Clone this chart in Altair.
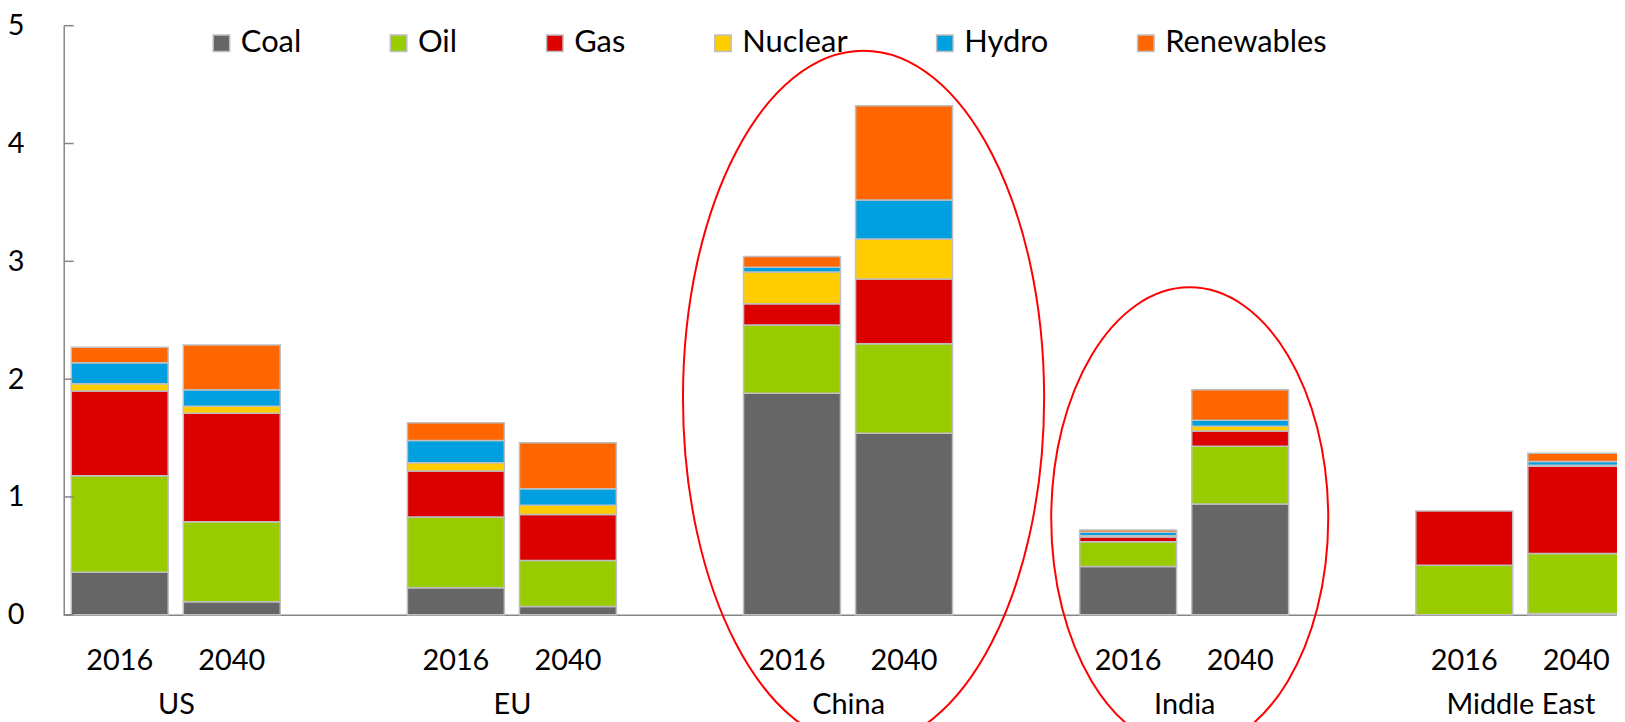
import altair as alt
import pandas as pd

regions = ["US", "EU", "China", "India", "Middle East"]
years = ["2016", "2040"]
sources = ["Coal", "Oil", "Gas", "Nuclear", "Hydro", "Renewables"]
colors = ["#666666", "#99cc00", "#dd0000", "#ffcc00", "#009fe0", "#ff6600"]

# order: US2016, US2040, EU2016, EU2040, China2016, China2040, India2016, India2040, ME2016, ME2040
coal = [0.36, 0.11, 0.23, 0.07, 1.88, 1.54, 0.41, 0.94, 0.00, 0.01]
oil = [0.82, 0.68, 0.60, 0.39, 0.58, 0.76, 0.21, 0.49, 0.42, 0.51]
gas = [0.72, 0.92, 0.39, 0.39, 0.18, 0.55, 0.04, 0.13, 0.46, 0.74]
nuclear = [0.06, 0.06, 0.07, 0.08, 0.27, 0.34, 0.01, 0.04, 0.00, 0.01]
hydro = [0.18, 0.14, 0.19, 0.14, 0.04, 0.33, 0.03, 0.05, 0.00, 0.03]
renewables = [0.13, 0.38, 0.15, 0.39, 0.09, 0.80, 0.02, 0.26, 0.00, 0.07]

y_ticks = [0, 1, 2, 3, 4, 5]

# highlighted regions (ellipse centre, in axis units)
circled = ["China", "India"]
circled_center = [1.84, 0.82]

series = [coal, oil, gas, nuclear, hydro, renewables]
rows = []
i = 0
for r in regions:
    for yv in years:
        for s_idx, s in enumerate(sources):
            v = series[s_idx][i]
            if v > 0:
                rows.append({"key": f"{r}|{yv}", "region": r, "year": yv,
                             "source": s, "order": s_idx, "value": v})
        i += 1
df = pd.DataFrame(rows)

keys = []
for k, r in enumerate(regions):
    keys += [f"{r}|2016", f"{r}|2040"]
    if k < len(regions) - 1:
        keys.append(f"gap{k}")

step = 112.6
xscale = alt.Scale(domain=keys, range=[0, step * len(keys)],
                   paddingInner=0.135, paddingOuter=0.0675)
yscale = alt.Scale(domain=[0, 5], nice=False)
FONT = "Lato"

xaxis = alt.Axis(labelExpr="indexof(datum.value, '|') > 0 ? split(datum.value, '|')[1] : ''",
                 labelAngle=0, ticks=False, labelPadding=32, title=None,
                 labelFontSize=29, labelFont=FONT, labelColor="#000000",
                 domainColor="#868686", domainWidth=1.5)
yaxis = alt.Axis(values=y_ticks, format="d", ticks=False, grid=False, title=None,
                 labelPadding=40, labelFontSize=29, labelFont=FONT,
                 labelColor="#000000", domainColor="#868686", domainWidth=1.5)

bars = alt.Chart(df).mark_bar(stroke="#bfbfbf", strokeWidth=1.5).encode(
    x=alt.X("key:N", scale=xscale, sort=keys, axis=xaxis),
    y=alt.Y("value:Q", stack="zero", scale=yscale, axis=yaxis),
    color=alt.Color("source:N", scale=alt.Scale(domain=sources, range=colors),
                    legend=alt.Legend(orient="none", legendX=143, legendY=2,
                                      direction="horizontal", columns=6, title=None,
                                      labelFont=FONT, labelFontSize=31, labelColor="#000000",
                                      labelLimit=400,
                                      symbolType="square", symbolSize=275,
                                      symbolStrokeColor="#bfbfbf", symbolStrokeWidth=1.5,
                                      symbolOpacity=1, labelOffset=4, columnPadding=82)),
    order=alt.Order("order:Q", sort="ascending"),
)

tick_df = pd.DataFrame({"t": y_ticks})
ticks = alt.Chart(tick_df).mark_rule(color="#868686", strokeWidth=1.5).encode(
    y=alt.Y("t:Q", scale=yscale, axis=yaxis),
    x=alt.value(0), x2=alt.value(10),
)

lab_df = pd.DataFrame({"region": regions, "key": [f"{r}|2040" for r in regions]})
region_labels = alt.Chart(lab_df).mark_text(
    font=FONT, fontSize=29, color="#000000", baseline="alphabetic", align="center", xOffset=-7
).encode(
    x=alt.X("key:N", scale=xscale, sort=keys, bandPosition=0, axis=xaxis),
    y=alt.value(692),
    text="region:N",
)

ell_china = alt.Chart(pd.DataFrame({"key": [f"{circled[0]}|2040"], "cy": [circled_center[0]]})).mark_point(
    shape="M -0.52 0 A 0.52 1 0 1 0 0.52 0 A 0.52 1 0 1 0 -0.52 0 Z",
    size=487204, filled=False, stroke="#ff0000", strokeWidth=2, opacity=1, xOffset=8,
).encode(
    x=alt.X("key:N", scale=xscale, sort=keys, bandPosition=0, axis=xaxis),
    y=alt.Y("cy:Q", scale=yscale, axis=yaxis),
)

ell_india = alt.Chart(pd.DataFrame({"key": [f"{circled[1]}|2040"], "cy": [circled_center[1]]})).mark_point(
    shape="M -0.6 0 A 0.6 1 0 1 0 0.6 0 A 0.6 1 0 1 0 -0.6 0 Z",
    size=215296, filled=False, stroke="#ff0000", strokeWidth=2, opacity=1, xOffset=-2,
).encode(
    x=alt.X("key:N", scale=xscale, sort=keys, bandPosition=0, axis=xaxis),
    y=alt.Y("cy:Q", scale=yscale, axis=yaxis),
)

chart = alt.layer(bars, ticks, region_labels, ell_china, ell_india).properties(
    width=1561, height=592,
    autosize=alt.AutoSizeParams(type="none"),
    padding={"left": 56, "top": 16, "right": 0, "bottom": 106},
).configure_view(stroke=None)

chart.save("out.html", embed_options={"renderer": "svg", "actions": False})
